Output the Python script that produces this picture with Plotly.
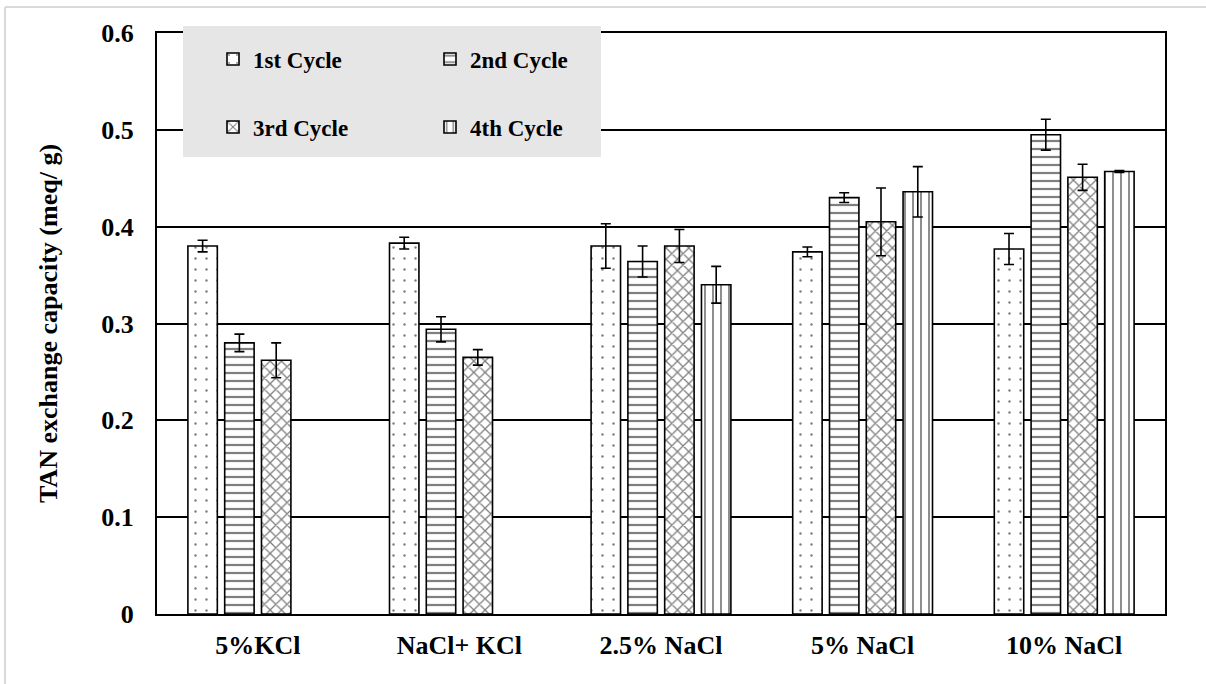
import plotly.graph_objects as go

# Regeneration media / salt solutions tested
categories = ["5%KCl", "NaCl+ KCl", "2.5% NaCl", "5% NaCl", "10% NaCl"]

cycle_names = ["1st Cycle", "2nd Cycle", "3rd Cycle", "4th Cycle"]

# TAN exchange capacity (meq/g) per cycle, with standard deviations
cycle1 = [0.380, 0.383, 0.380, 0.374, 0.377]
cycle1_err = [0.006, 0.006, 0.023, 0.005, 0.016]

cycle2 = [0.280, 0.294, 0.364, 0.430, 0.495]
cycle2_err = [0.009, 0.013, 0.016, 0.005, 0.016]

cycle3 = [0.262, 0.265, 0.380, 0.405, 0.451]
cycle3_err = [0.018, 0.008, 0.017, 0.035, 0.0135]

cycle4 = [None, None, 0.340, 0.436, 0.457]
cycle4_err = [None, None, 0.019, 0.026, 0.001]

y_ticks = [0, 0.1, 0.2, 0.3, 0.4, 0.5, 0.6]

FONT = "Liberation Serif, Times New Roman, serif"
W, H = 1206, 684
ML, MR, MT, MB = 157, 41, 33, 70
PW, PH = W - ML - MR, H - MT - MB


def px_x(x):
    return (x - ML) / PW


def px_y(y):
    return (H - MB - y) / PH


series = [
    (cycle1, cycle1_err, dict(shape=".", size=11, solidity=0.04), "legend"),
    (cycle2, cycle2_err, dict(shape="-", size=8, solidity=0.28), "legend"),
    (cycle3, cycle3_err, dict(shape="x", size=8, solidity=0.3), "legend2"),
    (cycle4, cycle4_err, dict(shape="|", size=8, solidity=0.22), "legend2"),
]

fig = go.Figure()
for name, (vals, errs, pat, leg) in zip(cycle_names, series):
    fig.add_trace(go.Bar(
        name=name,
        x=categories,
        y=vals,
        legend=leg,
        marker=dict(
            color="white",
            line=dict(color="black", width=1.6),
            pattern=dict(fgcolor="black", bgcolor="white", fillmode="overlay", **pat),
        ),
        error_y=dict(type="data", array=errs, visible=True,
                     color="black", thickness=1.6, width=5),
    ))

legend_common = dict(
    orientation="h",
    xanchor="left",
    yanchor="middle",
    x=px_x(213),
    bgcolor="rgba(0,0,0,0)",
    entrywidth=172,
    entrywidthmode="pixels",
    font=dict(family=FONT, size=23, color="black", weight="bold"),
    traceorder="normal",
)

shapes = [
    # grey legend panel
    dict(type="rect", xref="paper", yref="paper",
         x0=px_x(183), x1=px_x(601), y0=px_y(157), y1=px_y(26),
         fillcolor="#e7e6e6", line=dict(width=0), layer="above"),
    # light outer frame
    dict(type="line", xref="paper", yref="paper",
         x0=px_x(5), x1=px_x(1206), y0=px_y(7), y1=px_y(7),
         line=dict(color="#d9d9d9", width=2)),
    dict(type="line", xref="paper", yref="paper",
         x0=px_x(5), x1=px_x(5), y0=px_y(7), y1=px_y(684),
         line=dict(color="#d9d9d9", width=2)),
]

fig.update_layout(
    width=W, height=H,
    margin=dict(l=ML, r=MR, t=MT, b=MB),
    paper_bgcolor="white",
    plot_bgcolor="white",
    barmode="group",
    bargap=0.27,
    bargroupgap=0.2,
    font=dict(family=FONT, color="black"),
    legend=dict(y=px_y(59), **legend_common),
    legend2=dict(y=px_y(127), **legend_common),
    shapes=shapes,
    xaxis=dict(
        showline=True, linecolor="black", linewidth=2, mirror=True,
        showgrid=False, ticks="",
        tickfont=dict(family=FONT, size=26, color="black", weight="bold"),
        ticklabelstandoff=7,
    ),
    yaxis=dict(
        range=[0, 0.6],
        tickvals=y_ticks,
        ticktext=[f"{v:g}" for v in y_ticks],
        showline=True, linecolor="black", linewidth=2, mirror=True,
        showgrid=True, gridcolor="black", gridwidth=1.5,
        zeroline=False, ticks="",
        tickfont=dict(family=FONT, size=26, color="black", weight="bold"),
        ticklabelstandoff=16,
        title=dict(text="TAN exchange capacity (meq/ g)",
                   font=dict(family=FONT, size=26, color="black", weight="bold"),
                   standoff=36),
    ),
)

fig.write_html("out.html")
